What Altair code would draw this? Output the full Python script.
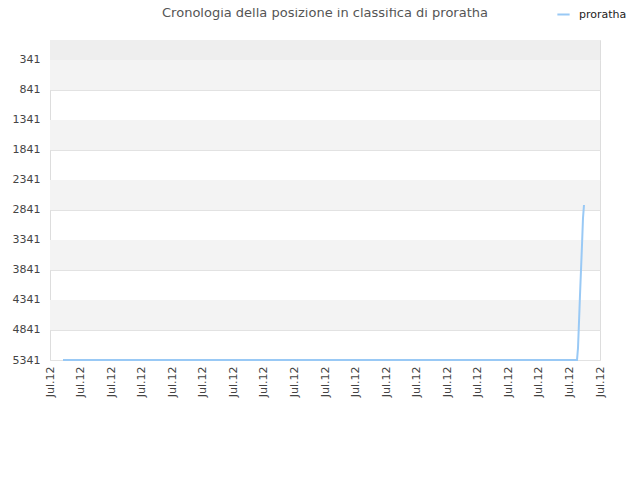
import altair as alt
import pandas as pd

# data
days = [13, 527, 528, 529, 530, 531, 532, 533, 534]
ranks = [5341, 5341, 5141, 4708, 4258, 3841, 3424, 2974, 2758]
series_name = "proratha"
y_ticks = [341, 841, 1341, 1841, 2341, 2841, 3341, 3841, 4341, 4841, 5341]
x_ticks = [i * 550 / 18 for i in range(19)]
x_label = "Jul.12"
band_lo = [8, 341, 1341, 2341, 3341, 4341]
band_hi = [341, 841, 1841, 2841, 3841, 4841]
band_col = ["#eeeeee", "#f3f3f3", "#f3f3f3", "#f3f3f3", "#f3f3f3", "#f3f3f3"]

line_df = pd.DataFrame({"day": days, "rank": ranks, "series": [series_name] * len(days)})
band_df = pd.DataFrame({"lo": band_lo, "hi": band_hi, "col": band_col})

yscale = alt.Scale(domain=[8, 5341], reverse=True, nice=False, zero=False)
xscale = alt.Scale(domain=[0, 550], nice=False, zero=False)

yaxis = alt.Axis(
    values=y_ticks,
    format="d",
    grid=True,
    gridColor="#e2e2e2",
    ticks=False,
    domain=False,
    labelFontSize=11,
    labelColor="#444",
    labelFont="DejaVu Sans",
    labelPadding=10,
)

bands = alt.Chart(band_df).mark_rect().encode(
    y=alt.Y("lo:Q", scale=yscale, axis=yaxis, title=None),
    y2="hi:Q",
    x=alt.value(0),
    x2=alt.value(550),
    fill=alt.Fill("col:N", scale=None, legend=None),
)

line = alt.Chart(line_df).mark_line(strokeWidth=2, interpolate="linear").encode(
    x=alt.X(
        "day:Q",
        scale=xscale,
        title=None,
        axis=alt.Axis(
            values=x_ticks,
            labelExpr=f"'{x_label}'",
            labelAngle=-90,
            grid=False,
            ticks=False,
            domain=False,
            labelFontSize=11,
            labelColor="#444",
            labelFont="DejaVu Sans",
            labelPadding=6,
            labelOverlap=False,
        ),
    ),
    y=alt.Y("rank:Q", scale=yscale, title=None, axis=yaxis),
    color=alt.Color(
        "series:N",
        scale=alt.Scale(range=["#99c9f5"]),
        legend=alt.Legend(
            title=None,
            orient="none",
            legendX=506,
            legendY=-33,
            symbolType="stroke",
            symbolStrokeWidth=2,
            symbolSize=150,
            labelOffset=8,
            labelFontSize=11,
            labelFont="DejaVu Sans",
            labelColor="#222",
        ),
    ),
)

chart = alt.layer(bands, line).properties(
    width=550,
    height=320,
    padding={"left": 42, "top": 32, "right": 32, "bottom": 112},
    autosize=alt.AutoSizeParams(type="none"),
    title=alt.TitleParams(
        "Cronologia della posizione in classifica di proratha",
        anchor="middle",
        fontSize=13,
        fontWeight="normal",
        font="DejaVu Sans",
        color="#555",
        offset=0,
        dy=13,
    ),
).configure_view(stroke="#dddddd", strokeWidth=1)

chart.save("out.html", embed_options={"renderer": "svg", "actions": False})
